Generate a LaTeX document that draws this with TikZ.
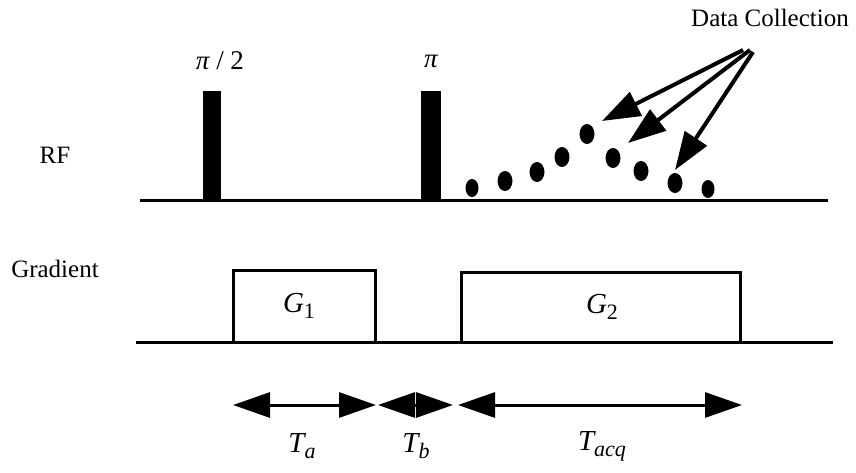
\documentclass[tikz,border=0pt]{standalone}
\usepackage{fontspec}
\setmainfont{Liberation Serif}
\usetikzlibrary{arrows.meta,shapes.geometric}
\newcommand{\lowsub}[1]{\raisebox{-6pt}{\fontsize{22}{22}\selectfont #1}}
\begin{document}
\begin{tikzpicture}[x=1pt,y=-1pt,
  lbl/.style={font=\fontsize{25}{30}\selectfont, inner sep=0pt},
  plbl/.style={font=\fontsize{27}{30}\selectfont, inner sep=0pt},
  mlbl/.style={font=\fontsize{29}{34}\selectfont\itshape, inner sep=0pt},
  rfline/.style={line width=3pt},
  pulse/.style={fill=black, draw=none, inner sep=0pt, minimum height=110pt, anchor=south},
  datadot/.style={ellipse, fill=black, inner sep=0pt, minimum width=15pt, minimum height=20pt},
  smalldot/.style={ellipse, fill=black, inner sep=0pt, minimum width=13pt, minimum height=18pt},
  dcarrow/.style={line width=4pt, -{Triangle[length=38pt,width=26pt]}},
  spanarrow/.style={line width=3pt, {Triangle[length=37pt,width=25pt]}-{Triangle[length=37pt,width=25pt]}},
  gbox/.style={draw, line width=3pt, inner sep=0pt, anchor=south}
]
\useasboundingbox (0,0) rectangle (856,473);

% labels on the left
\node[lbl] (rf) at (55,155) {RF};
\node[lbl] (grad) at (55,269) {Gradient};

% RF line and pulses
\coordinate (rfa) at (140,200);
\coordinate (rfb) at (828,200);
\draw[rfline] (rfa) -- (rfb);
\node[pulse, minimum width=18pt] (p1) at (212,201) {};
\node[pulse, minimum width=20pt] (p2) at (431,201) {};
\node[plbl] (pi2) at (220,61) {{\itshape π} / 2};
\node[plbl] (pi) at (431,61) {{\itshape π}};

% data points
\node[smalldot] (d1) at (472,188) {};
\node[datadot] (d2) at (505,181) {};
\node[datadot] (d3) at (537,172) {};
\node[datadot] (d4) at (562,157) {};
\node[datadot] (d5) at (587,134) {};
\node[datadot] (d6) at (613,158) {};
\node[datadot] (d7) at (641,171) {};
\node[datadot] (d8) at (675,183) {};
\node[smalldot] (d9) at (708,189) {};

% data collection label and arrows
\node[lbl] (dc) at (770,18) {Data Collection};
\coordinate (s1) at (743,50);
\coordinate (s2) at (750,50);
\coordinate (s3) at (753,52);
\coordinate (t1) at (602,121);
\coordinate (t2) at (628,143);
\coordinate (t3) at (675,170);
\draw[dcarrow] (s1) -- (t1);
\draw[dcarrow] (s2) -- (t2);
\draw[dcarrow] (s3) -- (t3);

% gradient line and lobes
\coordinate (ga) at (136,342);
\coordinate (gb) at (833,342);
\draw[rfline] (ga) -- (gb);
\node[gbox, minimum width=142pt, minimum height=72pt] (g1) at (304,343.5) {};
\node[gbox, minimum width=279pt, minimum height=70pt] (g2) at (600.5,343.5) {};
\node[mlbl] (g1l) at (299,306) {G\lowsub{\upshape 1}};
\node[mlbl] (g2l) at (602,307) {G\lowsub{\upshape 2}};

% timing arrows
\coordinate (a1) at (233,405);
\coordinate (a2) at (376,405);
\coordinate (b1) at (378,405);
\coordinate (b2) at (453,405);
\coordinate (c1) at (458,405);
\coordinate (c2) at (742,405);
\draw[spanarrow] (a1) -- (a2);
\draw[spanarrow] (b1) -- (b2);
\draw[spanarrow] (c1) -- (c2);
\node[mlbl] (ta) at (302,446) {T\lowsub{a}};
\node[mlbl] (tb) at (416,446) {T\lowsub{b}};
\node[mlbl] (tacq) at (602,446) {T\lowsub{acq}};
\end{tikzpicture}
\end{document}
